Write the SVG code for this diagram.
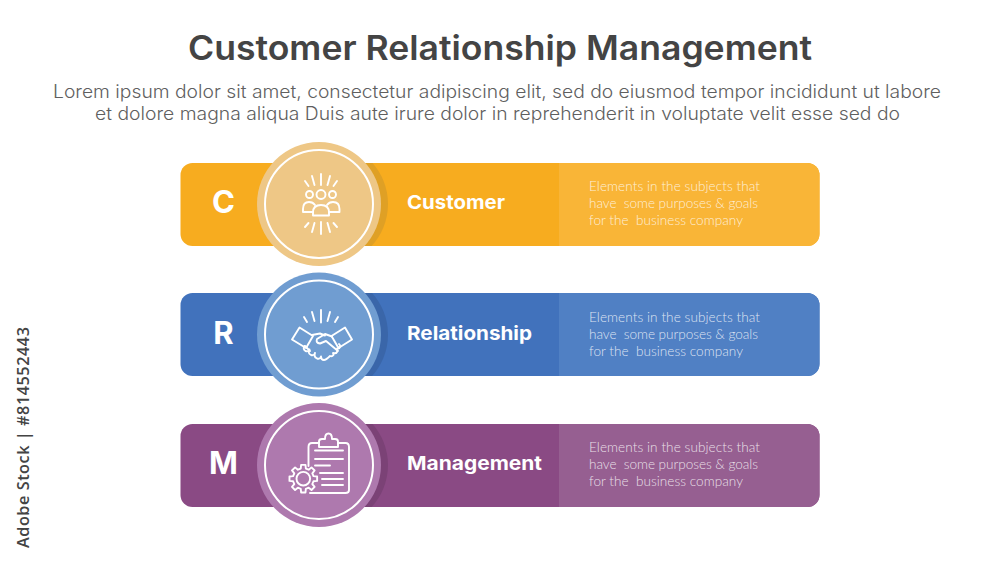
<svg xmlns="http://www.w3.org/2000/svg" width="1000" height="563" viewBox="0 0 1000 563">
<defs>
<style>
.title{font:600 33.5px "Inter","Liberation Sans",sans-serif;fill:#444;text-anchor:middle}
.sub{font:300 18px "Inter","Liberation Sans",sans-serif;fill:#5f5f5f;text-anchor:middle}
.letter{font:700 31px "Inter","Liberation Sans",sans-serif;fill:#fff;text-anchor:middle}
.name{font:700 19px "Inter","Liberation Sans",sans-serif;fill:#fff}
.desc{font:300 13.6px "Lato","Liberation Sans",sans-serif;fill:#fff;fill-opacity:.8}
.ring{fill:none;stroke:#fff;stroke-width:2}
.ico{fill:none;stroke:#fff;stroke-width:1.9;stroke-linecap:round;stroke-linejoin:round}
.side{font:600 16.3px "Open Sans","Liberation Sans",sans-serif;fill:#444}
</style>
<clipPath id="c1"><rect x="180.500" y="163" width="639" height="83" rx="12"/></clipPath>
<clipPath id="c2"><rect x="180.500" y="293" width="639" height="83" rx="12"/></clipPath>
<clipPath id="c3"><rect x="180.500" y="424" width="639" height="83" rx="12"/></clipPath>
</defs>
<rect width="1000" height="563" fill="#fff"/>
<text class="title" x="500" y="60" textLength="624" lengthAdjust="spacingAndGlyphs">Customer Relationship Management</text>
<text class="sub" x="497" y="98" textLength="888" lengthAdjust="spacingAndGlyphs">Lorem ipsum dolor sit amet, consectetur adipiscing elit, sed do eiusmod tempor incididunt ut labore</text>
<text class="sub" x="497.500" y="120" textLength="805" lengthAdjust="spacingAndGlyphs">et dolore magna aliqua Duis aute irure dolor in reprehenderit in voluptate velit esse sed do</text>

<g id="node-customer">
<rect x="180.500" y="163" width="639" height="83" rx="12" fill="#F7AC1F"/>
<g clip-path="url(#c1)"><rect x="559" y="163" width="261" height="83" fill="#F9B537"/><circle cx="326" cy="204" r="62" fill="#DFA025"/></g>
<circle cx="319" cy="204" r="62" fill="#EEC786"/>
<circle class="ring" cx="319" cy="204" r="54"/>
<text class="letter" x="223.500" y="213">C</text>
<text class="name" x="407" y="209" textLength="98" lengthAdjust="spacingAndGlyphs">Customer</text>
<text class="desc" x="589" y="191" textLength="171">Elements in the subjects that</text>
<text class="desc" x="589" y="208" textLength="169" xml:space="preserve">have  some purposes &amp; goals</text>
<text class="desc" x="589" y="225" textLength="154" xml:space="preserve">for the  business company</text>
<g class="ico">
<path d="M321 174V185M312 176l2.500 9M330 176l-2.500 9M305 181l3.500 5M337 181l-3.500 5M321 222V234M312 232l2.500-9M330 232l-2.500-9M305 227l3.500-4M337 227l-3.500-4"/>
<circle cx="321" cy="194.500" r="4.500"/><circle cx="309.500" cy="194.500" r="3.500"/><circle cx="332.500" cy="194.500" r="3.500"/>
<path d="M313 212H303V209Q303 202 309 202Q313 202 315 205M329 212H339.500V209Q339.500 202 333 202Q329 202 327 205"/>
<path d="M313 215.500V212.500Q313 205 321 205Q329 205 329 212.500V215.500Z"/>
</g>
</g>

<g id="node-relationship">
<rect x="180.500" y="293" width="639" height="83" rx="12" fill="#4172BC"/>
<g clip-path="url(#c2)"><rect x="559" y="293" width="261" height="83" fill="#5080C4"/><circle cx="326" cy="334.500" r="62" fill="#3A66A9"/></g>
<circle cx="319" cy="334.500" r="62" fill="#709DD1"/>
<circle class="ring" cx="319" cy="334.500" r="54"/>
<text class="letter" x="223.500" y="343.500">R</text>
<text class="name" x="407" y="339.500" textLength="125" lengthAdjust="spacingAndGlyphs">Relationship</text>
<text class="desc" x="589" y="321.500" textLength="171">Elements in the subjects that</text>
<text class="desc" x="589" y="338.500" textLength="169" xml:space="preserve">have  some purposes &amp; goals</text>
<text class="desc" x="589" y="355.500" textLength="154" xml:space="preserve">for the  business company</text>
<g class="ico">
<path d="M321 310V322.500M312 312l2.500 9M330 312l-2.500 9M304 317l3 5M338 317l-3 5"/>
<path d="M299.500 327.500L313 336L306 348L292 339.500ZM345 327.500L352 339.500L338.500 348L331.500 336Z"/>
<path d="M312 335L320 333.500L325 335.500M332 336.500L325 334L317 339Q315.500 343 320 343.500L326 341L338 351M305 346L310 351"/>
<path d="M304.500 346q-2 3 1 5q3 1 4-1.500q-2 4 1.500 5.500q3 1 4-2q-1.500 4 2 5.500q3 1 4-2q0 3.500 3 3.500q2 0 6-4q2 1 3.500-1q0-1-.5-2q3 1 4-1q1-2 0-3.500q2.500 .5 3-1.500q.5-2-1-3"/>
</g>
</g>

<g id="node-management">
<rect x="180.500" y="424" width="639" height="83" rx="12" fill="#8A4A84"/>
<g clip-path="url(#c3)"><rect x="559" y="424" width="261" height="83" fill="#965F91"/><circle cx="326" cy="465" r="62" fill="#7B4276"/></g>
<circle cx="319" cy="465" r="62" fill="#AE79AE"/>
<circle class="ring" cx="319" cy="465" r="54"/>
<text class="letter" x="223.500" y="474">M</text>
<text class="name" x="407" y="470" textLength="135" lengthAdjust="spacingAndGlyphs">Management</text>
<text class="desc" x="589" y="452" textLength="171">Elements in the subjects that</text>
<text class="desc" x="589" y="469" textLength="169" xml:space="preserve">have  some purposes &amp; goals</text>
<text class="desc" x="589" y="486" textLength="154" xml:space="preserve">for the  business company</text>
<g class="ico">
<path d="M308.500 466V447Q308.500 443 312 443H319M338 443H345.500Q349 443 349 447V490Q349 493 345.500 493H310"/>
<path d="M319 447V441.500Q319 439 322 439H325Q325 433.500 328.500 433.500Q332 433.500 332 439H335Q338 439 338 441.500V447Z"/>
<path d="M315 450.500H343M315 459H343M315 465.500H330M320 473H343M322 479H343M322 485H343"/>
<g transform="translate(303.300 478.700)">
<polygon points="10.190,-2.540 13.830,-2.190 13.830,2.190 10.190,2.540 9,5.410 11.330,8.230 8.230,11.330 5.410,9 2.540,10.190 2.190,13.830 -2.190,13.830 -2.540,10.190 -5.410,9 -8.230,11.330 -11.330,8.230 -9,5.410 -10.190,2.540 -13.830,2.190 -13.830,-2.190 -10.190,-2.540 -9,-5.410 -11.330,-8.230 -8.230,-11.330 -5.410,-9 -2.540,-10.190 -2.190,-13.830 2.190,-13.830 2.540,-10.190 5.410,-9 8.230,-11.330 11.330,-8.230 9,-5.410"/>
<circle r="6.800"/>
</g>
</g>
</g>

<text class="side" transform="translate(29 548) rotate(-90)" textLength="221">Adobe Stock | #814552443</text>
</svg>
